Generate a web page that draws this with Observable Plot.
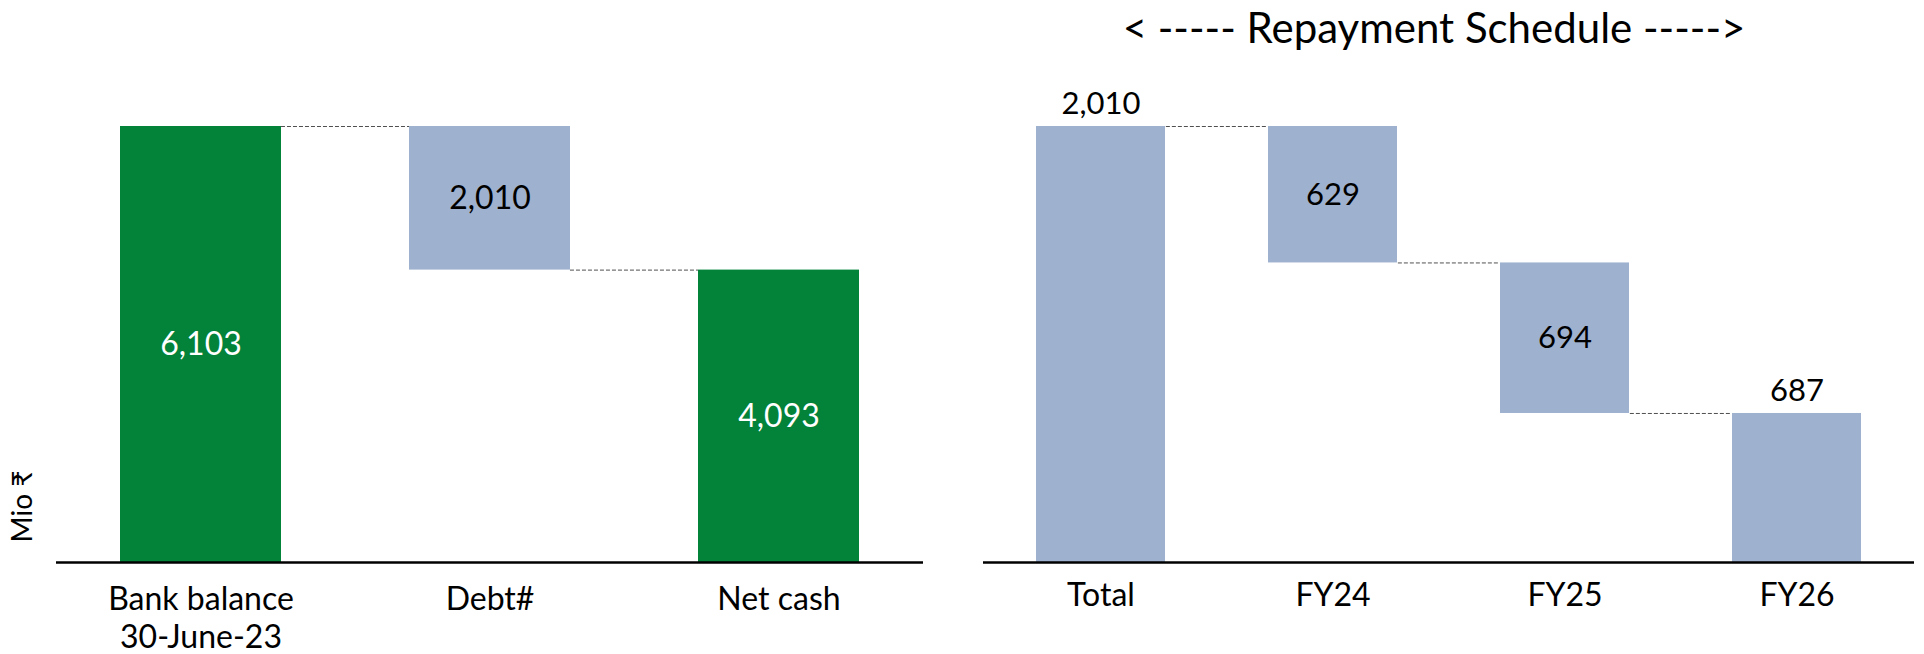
<!DOCTYPE html>
<html>
<head>
<meta charset="utf-8">
<script src="https://cdn.jsdelivr.net/npm/d3@7"></script>
<script src="https://cdn.jsdelivr.net/npm/@observablehq/plot@0.6"></script>
<style>
  html, body { margin: 0; padding: 0; background: #ffffff; }
  #wrap { position: relative; width: 1924px; height: 654px; display: flex; font-family: Lato, sans-serif; }
  #title { position: absolute; top: 3px; left: 1434px; transform: translateX(-50%); font-size: 42px; line-height: 48px; white-space: nowrap; color: #000; }
</style>
</head>
<body>
<div id="wrap"><div id="title"></div></div>
<script>
// ---- data ----
const leftCategories = ["Bank balance\n30-June-23", "Debt#", "Net cash"];
const leftValues = [6103, -2010, 4093];
const leftTypes = ["total", "change", "total"];

const rightCategories = ["Total", "FY24", "FY25", "FY26"];
const rightValues = [2010, -629, -694, -687];
const rightTypes = ["total", "change", "change", "change"];

const yAxisLabel = "Mio ₹";
const titleText = "< ----- Repayment Schedule ----->";

// ---- helpers ----
const GREEN = "#03823A";
const BLUE = "#9EB1CF";
const fmt = d3.format(",");

function buildBars(cats, vals, types) {
  let run = 0;
  return cats.map((c, i) => {
    let y1, y2;
    if (types[i] === "total") { y1 = 0; y2 = vals[i]; }
    else { y1 = run; y2 = run + vals[i]; }
    run = y2;
    return { cat: c, y1, y2, lo: Math.min(y1, y2), hi: Math.max(y1, y2),
             mid: (y1 + y2) / 2, value: Math.abs(vals[i]), type: types[i] };
  });
}
function buildConnectors(bars) {
  const out = [];
  for (let i = 0; i < bars.length - 1; i++) out.push({ from: bars[i].cat, to: bars[i + 1].cat, level: bars[i].y2 });
  return out;
}

document.getElementById("title").textContent = titleText;

const W = 962, H = 654, MT = 126, MB = 92;

// ---- left chart ----
const lBars = buildBars(leftCategories, leftValues, leftTypes);
const lConn = buildConnectors(lBars);
const lML = 56, lMR = 39, lPad = 0.443;
const lBW = (W - lML - lMR) / leftCategories.length * (1 - lPad);

const left = Plot.plot({
  width: W, height: H,
  marginLeft: lML, marginRight: lMR, marginTop: MT, marginBottom: MB,
  style: { fontFamily: "Lato, sans-serif", background: "#ffffff", color: "#000" },
  x: { domain: leftCategories, paddingInner: lPad, paddingOuter: lPad / 2, label: null },
  y: { domain: [0, d3.max(lBars, d => d.hi)], axis: null },
  marks: [
    Plot.barY(lBars, { x: "cat", y1: "y1", y2: "y2", fill: d => d.type === "total" ? GREEN : BLUE }),
    Plot.ruleY(lConn, { y: "level", x1: "from", x2: "to", insetLeft: lBW, insetRight: lBW,
      stroke: "#505050", strokeWidth: 1, strokeDasharray: "4,2" }),
    Plot.text(lBars, { x: "cat", y: "mid", text: d => fmt(d.value),
      fill: d => d.type === "total" ? "#ffffff" : "#000000", fontSize: 32 }),
    Plot.ruleY([0], { stroke: "#000", strokeWidth: 2.5 }),
    Plot.axisX({ tickSize: 0, tickPadding: 21, fontSize: 32, lineHeight: 1.17, label: null }),
    Plot.text([yAxisLabel], { frameAnchor: "bottom-left", rotate: -90, textAnchor: "middle",
      dx: -25, dy: -56, fontSize: 28, fill: "#000" })
  ]
});

// ---- right chart ----
const rBars = buildBars(rightCategories, rightValues, rightTypes);
const rConn = buildConnectors(rBars);
const rML = 21, rMR = 10, rPad = 0.442;
const rBW = (W - rML - rMR) / rightCategories.length * (1 - rPad);

const right = Plot.plot({
  width: W, height: H,
  marginLeft: rML, marginRight: rMR, marginTop: MT, marginBottom: MB,
  style: { fontFamily: "Lato, sans-serif", background: "transparent", color: "#000" },
  x: { domain: rightCategories, paddingInner: rPad, paddingOuter: rPad / 2, label: null },
  y: { domain: [0, d3.max(rBars, d => d.hi)], axis: null },
  marks: [
    Plot.barY(rBars, { x: "cat", y1: "y1", y2: "y2", fill: BLUE }),
    Plot.ruleY(rConn, { y: "level", x1: "from", x2: "to", insetLeft: rBW, insetRight: rBW,
      stroke: "#505050", strokeWidth: 1, strokeDasharray: "4,2" }),
    Plot.text(rBars.filter(d => d.lo > 0), { x: "cat", y: "mid", text: d => fmt(d.value), fill: "#000", fontSize: 31 }),
    Plot.text(rBars.filter(d => d.lo <= 0), { x: "cat", y: "hi", dy: -22, text: d => fmt(d.value), fill: "#000", fontSize: 31 }),
    Plot.ruleY([0], { stroke: "#000", strokeWidth: 2.5 }),
    Plot.axisX({ tickSize: 0, tickPadding: 21, fontSize: 32, label: null })
  ]
});

const wrap = document.getElementById("wrap");
wrap.appendChild(left);
wrap.appendChild(right);
</script>
</body>
</html>
